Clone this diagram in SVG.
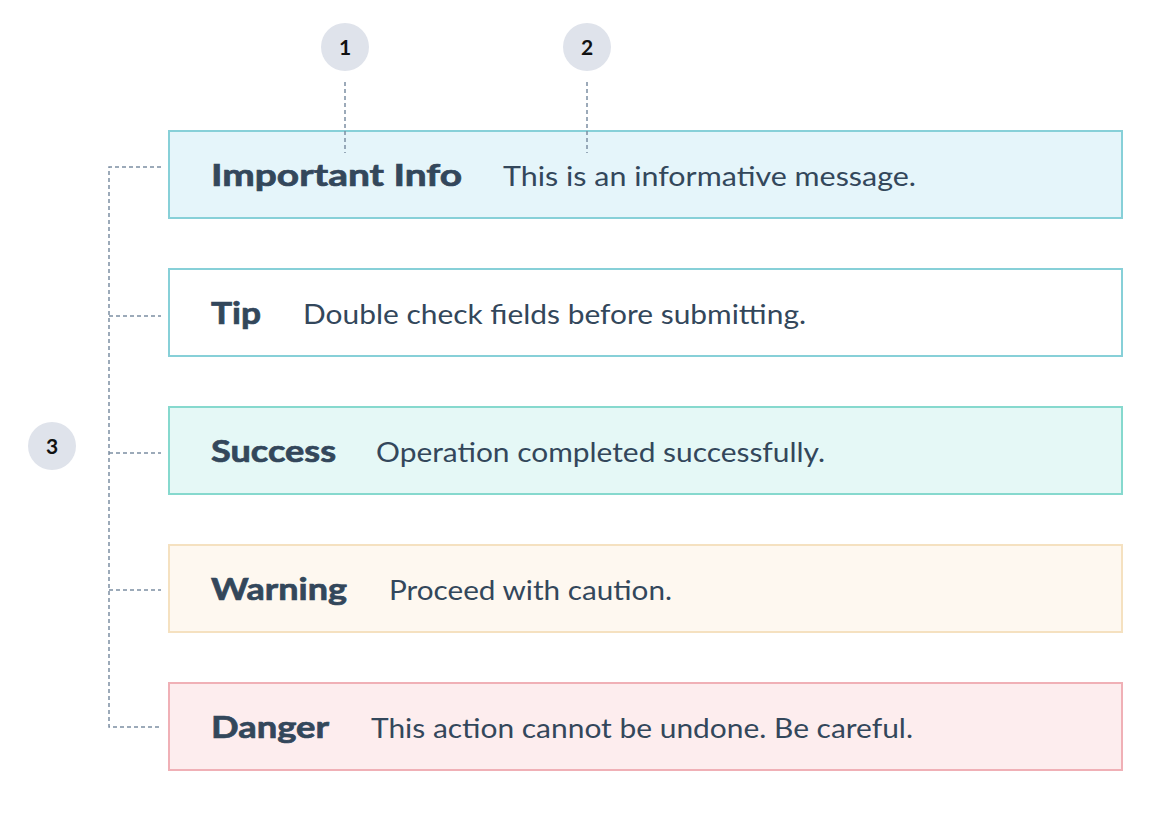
<svg xmlns="http://www.w3.org/2000/svg" width="1165" height="822" viewBox="0 0 1165 822">
<style>
.box{stroke-width:2}
.info{fill:#e5f5fa;stroke:#87d0d8}
.tip{fill:#ffffff;stroke:#87d0d8}
.succ{fill:#e5f8f6;stroke:#86d9ce}
.warn{fill:#fef8f0;stroke:#f5e1c0}
.dang{fill:#fdedee;stroke:#f0b0b6}
.title{font-family:"Lato","Liberation Sans",sans-serif;font-weight:700;font-size:31px;fill:#33475b;stroke:#33475b;stroke-width:0.7}
.body{font-family:"Lato","Liberation Sans",sans-serif;font-weight:400;font-size:27px;fill:#33475b}
.badge{fill:#dfe3eb}
.num{font-family:"Lato","Liberation Sans",sans-serif;font-weight:700;font-size:21px;fill:#111111;text-anchor:middle}
.conn{fill:none;stroke:#7c8ea3;stroke-width:1.5;stroke-dasharray:4 3}
</style>
<rect width="1165" height="822" fill="#ffffff"/>
<g id="badge1"><circle class="badge" cx="345" cy="47" r="24"/><text class="num" x="345" y="54.5">1</text></g>
<g id="badge2"><circle class="badge" cx="587" cy="47" r="24"/><text class="num" x="587" y="54.5">2</text></g>
<g id="badge3"><circle class="badge" cx="52" cy="446" r="24"/><text class="num" x="52" y="453.5">3</text></g>
<g id="info">
<rect class="box info" x="169" y="131" width="953" height="87"/>
<text class="title" x="211" y="186" textLength="251" lengthAdjust="spacingAndGlyphs">Important Info</text>
<text class="body" x="503" y="186" textLength="413" lengthAdjust="spacingAndGlyphs">This is an informative message.</text>
</g>
<g id="tip">
<rect class="box tip" x="169" y="269" width="953" height="87"/>
<text class="title" x="211" y="324" textLength="50" lengthAdjust="spacingAndGlyphs">Tip</text>
<text class="body" x="303" y="324" textLength="503" lengthAdjust="spacingAndGlyphs">Double check fields before submitting.</text>
</g>
<g id="success">
<rect class="box succ" x="169" y="407" width="953" height="87"/>
<text class="title" x="211" y="462" textLength="125" lengthAdjust="spacingAndGlyphs">Success</text>
<text class="body" x="376" y="462" textLength="449" lengthAdjust="spacingAndGlyphs">Operation completed successfully.</text>
</g>
<g id="warning">
<rect class="box warn" x="169" y="545" width="953" height="87"/>
<text class="title" x="211" y="600" textLength="136" lengthAdjust="spacingAndGlyphs">Warning</text>
<text class="body" x="389" y="600" textLength="283" lengthAdjust="spacingAndGlyphs">Proceed with caution.</text>
</g>
<g id="danger">
<rect class="box dang" x="169" y="683" width="953" height="87"/>
<text class="title" x="211" y="738" textLength="118" lengthAdjust="spacingAndGlyphs">Danger</text>
<text class="body" x="371" y="738" textLength="542" lengthAdjust="spacingAndGlyphs">This action cannot be undone. Be careful.</text>
</g>
<g id="connectors">
<path class="conn" d="M345 82 V153"/>
<path class="conn" d="M587 82 V153"/>
<path class="conn" d="M161 167 H109 V727 H161"/>
<path class="conn" d="M109 316 H161"/>
<path class="conn" d="M109 453 H161"/>
<path class="conn" d="M109 590 H161"/>
</g>
</svg>
